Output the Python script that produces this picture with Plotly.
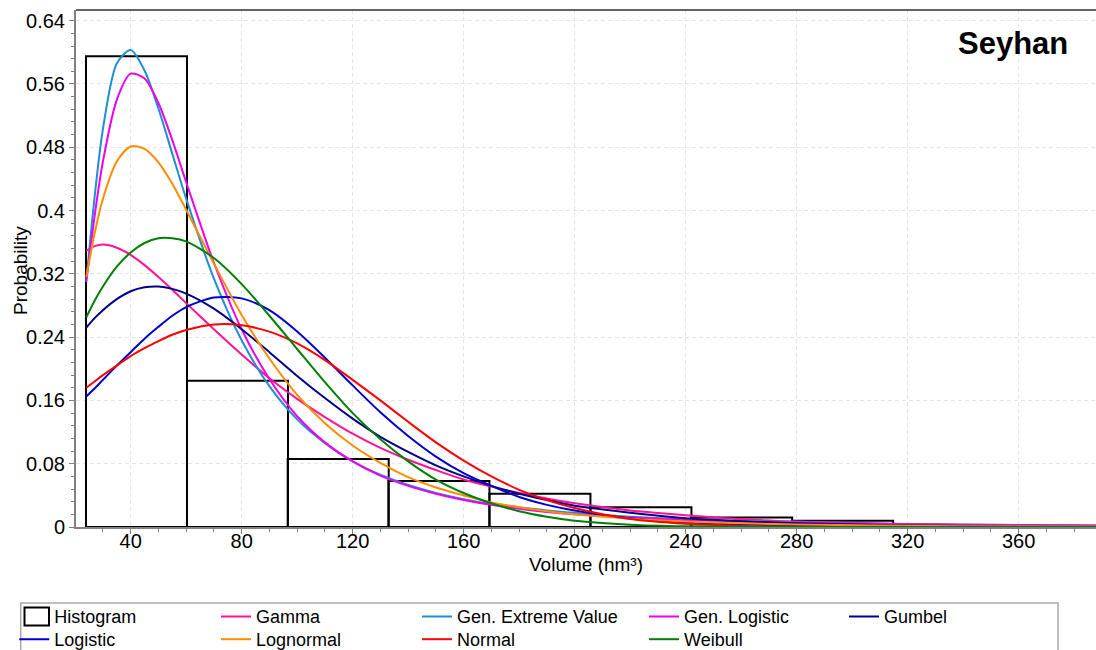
import plotly.graph_objects as go

# ---------------- data ----------------
x_volume = [24, 27, 30, 35, 40, 45, 50, 55, 60, 70, 80, 90, 100, 110, 120, 130,
            140, 150, 160, 170, 180, 190, 200, 220, 240, 260, 280, 320, 360, 388]

gamma = [0.349, 0.355, 0.357, 0.353, 0.344, 0.331, 0.316, 0.300, 0.283, 0.250, 0.218, 0.188,
         0.162, 0.139, 0.118, 0.100, 0.085, 0.072, 0.060, 0.051, 0.043, 0.036, 0.030, 0.021,
         0.015, 0.010, 0.007, 0.0034, 0.0016, 0.0010]
gen_extreme = [0.310, 0.417, 0.503, 0.586, 0.603, 0.577, 0.529, 0.472, 0.415, 0.314, 0.236, 0.178,
               0.136, 0.106, 0.083, 0.066, 0.053, 0.043, 0.035, 0.029, 0.025, 0.021, 0.018, 0.013,
               0.0098, 0.0076, 0.0059, 0.0038, 0.0026, 0.0020]
gen_logistic = [0.310, 0.393, 0.462, 0.540, 0.573, 0.567, 0.536, 0.489, 0.436, 0.334, 0.250, 0.187,
                0.140, 0.107, 0.083, 0.065, 0.052, 0.042, 0.034, 0.028, 0.023, 0.019, 0.016, 0.012,
                0.009, 0.0069, 0.0054, 0.0035, 0.0024, 0.0019]
gumbel = [0.252, 0.264, 0.274, 0.288, 0.298, 0.303, 0.304, 0.301, 0.295, 0.276, 0.250, 0.221,
          0.191, 0.163, 0.137, 0.114, 0.095, 0.078, 0.064, 0.052, 0.042, 0.034, 0.027, 0.018,
          0.011, 0.0073, 0.0047, 0.0019, 0.0008, 0.0004]
logistic = [0.165, 0.175, 0.186, 0.204, 0.221, 0.238, 0.253, 0.267, 0.278, 0.290, 0.289, 0.274,
            0.247, 0.214, 0.179, 0.145, 0.115, 0.089, 0.068, 0.052, 0.038, 0.028, 0.021, 0.011,
            0.006, 0.0032, 0.0017, 0.0005, 0.0001, 0.0001]
lognormal = [0.316, 0.371, 0.415, 0.462, 0.481, 0.478, 0.461, 0.434, 0.401, 0.333, 0.268, 0.213,
             0.167, 0.131, 0.103, 0.081, 0.063, 0.050, 0.040, 0.031, 0.025, 0.020, 0.016, 0.0105,
             0.0070, 0.0047, 0.0032, 0.0015, 0.0008, 0.0005]
normal = [0.176, 0.184, 0.192, 0.204, 0.216, 0.226, 0.235, 0.243, 0.249, 0.256, 0.255, 0.247,
          0.232, 0.211, 0.186, 0.160, 0.133, 0.107, 0.084, 0.064, 0.047, 0.034, 0.024, 0.010,
          0.004, 0.0014, 0.0004, 0.0, 0.0, 0.0]
weibull = [0.265, 0.286, 0.304, 0.329, 0.347, 0.359, 0.365, 0.365, 0.361, 0.340, 0.307, 0.267,
           0.225, 0.183, 0.144, 0.111, 0.083, 0.060, 0.043, 0.030, 0.020, 0.013, 0.008, 0.003,
           0.001, 0.0004, 0.0001, 0.0, 0.0, 0.0]

hist_left = [23.9, 60.3, 96.6, 132.9, 169.3, 205.7, 242.0, 278.4]
hist_width = [36.4, 36.4, 36.4, 36.4, 36.4, 36.4, 36.4, 36.4]
hist_prob = [0.595, 0.185, 0.086, 0.058, 0.042, 0.025, 0.012, 0.008]

y_tickvals = [0, 0.08, 0.16, 0.24, 0.32, 0.4, 0.48, 0.56, 0.64]
y_ticktext = ["0", "0.08", "0.16", "0.24", "0.32", "0.4", "0.48", "0.56", "0.64"]
x_tickvals = [40, 80, 120, 160, 200, 240, 280, 320, 360]

# ---------------- styling ----------------
FONT = "Liberation Sans, Arial, sans-serif"
W, H = 1096, 650
ML, MR, MT, MB = 76, 0, 10, 123
PW, PH = W - ML - MR, H - MT - MB


def px_x(px):
    return (px - ML) / PW


def px_y(py):
    return (H - MB - py) / PH


series = [
    ("Gamma", gamma, "#ff1493", "legend2", 216, 616.7),
    ("Gen. Extreme Value", gen_extreme, "#1f8fd1", "legend3", 417, 616.7),
    ("Gen. Logistic", gen_logistic, "#ee00ee", "legend4", 644, 616.7),
    ("Gumbel", gumbel, "#00008b", "legend5", 844, 616.7),
    ("Logistic", logistic, "#0000cd", "legend6", 14.3, 639.5),
    ("Lognormal", lognormal, "#ff8c00", "legend7", 216, 639.5),
    ("Normal", normal, "#ff0000", "legend8", 417, 639.5),
    ("Weibull", weibull, "#008000", "legend9", 644, 639.5),
]

fig = go.Figure()

# histogram bars (legend entry is drawn as a box icon below)
fig.add_trace(go.Bar(
    x=hist_left, y=hist_prob, width=hist_width, offset=0,
    name="Histogram", showlegend=False, legendgroup="hist",
    marker=dict(color="rgba(0,0,0,0)", line=dict(color="black", width=2)),
))
# legend entry for the histogram (text only; the icon is a box shape)
fig.add_trace(go.Scatter(
    x=[None], y=[None], mode="lines", name="Histogram", legend="legend",
    legendgroup="hist", showlegend=True,
    line=dict(color="rgba(0,0,0,0)", width=0),
))

legend_layouts = {
    "legend": dict(x=px_x(14.3), y=px_y(616.7)),
}

for name, vals, color, lg, lx, ly in series:
    fig.add_trace(go.Scatter(
        x=x_volume, y=vals, mode="lines", name=name, legend=lg,
        line=dict(color=color, width=2, shape="spline", smoothing=0.8),
    ))
    legend_layouts[lg] = dict(x=px_x(lx), y=px_y(ly))

for key, pos in legend_layouts.items():
    pos.update(xanchor="left", yanchor="middle", orientation="v", visible=True,
               bgcolor="rgba(0,0,0,0)", borderwidth=0,
               font=dict(family=FONT, size=18, color="black"))

fig.update_layout(**legend_layouts)

fig.update_layout(
    width=W, height=H,
    showlegend=True,
    margin=dict(l=ML, r=MR, t=MT, b=MB, autoexpand=False),
    paper_bgcolor="white", plot_bgcolor="white",
    hovermode=False,
    font=dict(family=FONT, size=19, color="black"),
    xaxis=dict(
        range=[20.3, 387.9], tickmode="array", tickvals=x_tickvals,
        ticks="outside", ticklen=5, tickcolor="#808080", tickwidth=1,
        ticklabelstandoff=-10,
        showline=True, linecolor="#808080", linewidth=2,
        showgrid=True, gridcolor="#e6e6e6", griddash="4px,3px", gridwidth=1,
        zeroline=False,
        minor=dict(tickmode="linear", tick0=0, dtick=10, ticks="outside", ticklen=3,
                   tickcolor="#808080", showgrid=False),
        tickfont=dict(size=20),
        title=dict(text="Volume (hm³)", font=dict(size=19), standoff=7),
    ),
    yaxis=dict(
        range=[0, 0.6535], tickmode="array", tickvals=y_tickvals, ticktext=y_ticktext,
        ticks="outside", ticklen=5, tickcolor="#808080", tickwidth=1,
        showline=True, linecolor="#808080", linewidth=2,
        showgrid=True, gridcolor="#e6e6e6", griddash="4px,3px", gridwidth=1,
        zeroline=False,
        minor=dict(tickmode="linear", tick0=0, dtick=0.016, ticks="outside", ticklen=3,
                   tickcolor="#808080", showgrid=False),
        tickfont=dict(size=20),
    ),
    shapes=[
        # top frame line
        dict(type="line", xref="paper", yref="paper", x0=0, x1=1, y0=1, y1=1,
             line=dict(color="#333333", width=1.5)),
        # legend frame
        dict(type="rect", xref="paper", yref="paper",
             x0=px_x(20.7), x1=px_x(1058), y0=px_y(603), y1=px_y(668),
             line=dict(color="#aaaaaa", width=1.5), fillcolor="rgba(0,0,0,0)"),
        # histogram legend icon
        dict(type="rect", xref="paper", yref="paper",
             x0=px_x(24.5), x1=px_x(49), y0=px_y(607.5), y1=px_y(625.5),
             line=dict(color="black", width=2), fillcolor="rgba(0,0,0,0)"),
    ],
    annotations=[
        dict(text="Seyhan", xref="paper", yref="paper", x=px_x(1012.5), y=px_y(43.7),
             xanchor="center", yanchor="middle", showarrow=False,
             font=dict(family=FONT, size=31, color="black", weight="bold")),
        dict(text="Probability", xref="paper", yref="paper", x=px_x(20), y=px_y(271),
             xanchor="center", yanchor="middle", showarrow=False, textangle=-90,
             font=dict(family=FONT, size=19, color="black")),
    ],
)

fig.write_html("out.html", config={"displayModeBar": False})
